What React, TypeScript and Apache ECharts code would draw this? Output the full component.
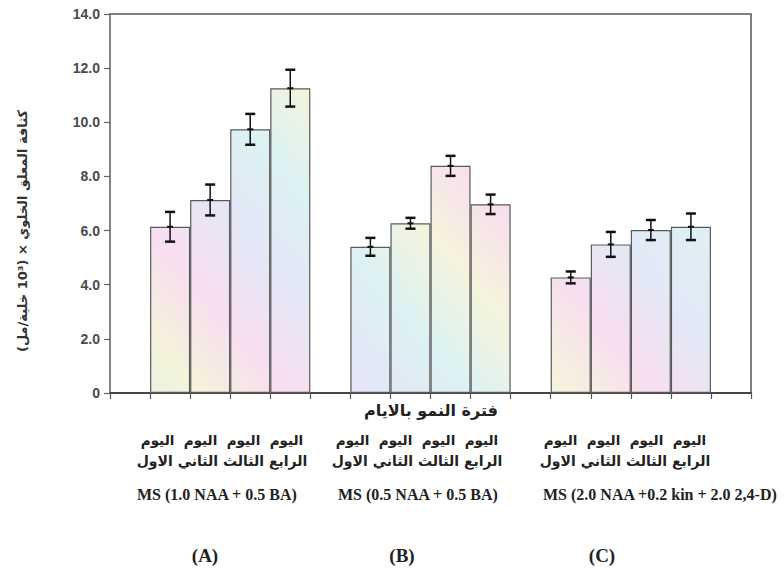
import React, { useEffect, useRef } from "react";
import * as echarts from "echarts";

// ---- data ----
const groupLetters = ["(A)", "(B)", "(C)"];
const treatments = [
  "MS (1.0 NAA + 0.5 BA)",
  "MS (0.5 NAA + 0.5 BA)",
  "MS (2.0 NAA +0.2 kin + 2.0 2,4-D)",
];
const dayWords = ["اليوم", "اليوم", "اليوم", "اليوم"];
const dayOrdinals = ["الرابع", "الثالث", "الثاني", "الاول"];
const xTitle = "فترة النمو بالايام";
const yTitle = "\u202Bكثافة المعلق الخلوي × (10³ خلية/مل)\u202C";
const yTicks = [0, 2, 4, 6, 8, 10, 12, 14];

const meansA = [6.14, 7.13, 9.74, 11.26];
const errA = [0.55, 0.57, 0.57, 0.68];
const meansB = [5.4, 6.27, 8.39, 6.97];
const errB = [0.33, 0.2, 0.37, 0.36];
const meansC = [4.27, 5.49, 6.02, 6.14];
const errC = [0.22, 0.46, 0.37, 0.49];

// category slots: gap, 4 bars, gap, 4 bars, gap, 4 bars, gap
const categories = [
  "gap0", "A1", "A2", "A3", "A4",
  "gap1", "B1", "B2", "B3", "B4",
  "gap2", "C1", "C2", "C3", "C4",
  "gap3",
];

export default function App() {
  const ref = useRef<HTMLDivElement>(null);
  useEffect(() => {
    if (!ref.current) return;
    const chart = echarts.init(ref.current, null, { renderer: "svg" });

    const barValues: any[] = ["-", ...meansA, "-", ...meansB, "-", ...meansC, "-"];
    const errValues: any[] = ["-", ...errA, "-", ...errB, "-", ...errC, "-"];
    const errData: any[] = [];
    barValues.forEach((v, i) => {
      if (v !== "-") errData.push([i, v, errValues[i]]);
    });

    const fill = new echarts.graphic.LinearGradient(
      110, 400, 560, 20,
      [
        { offset: 0.0, color: "#dcf1f5" },
        { offset: 0.12, color: "#f4f4da" },
        { offset: 0.24, color: "#f8def0" },
        { offset: 0.36, color: "#e3e7f7" },
        { offset: 0.48, color: "#dcf2f2" },
        { offset: 0.6, color: "#f5f4dc" },
        { offset: 0.72, color: "#f8def0" },
        { offset: 0.84, color: "#e2e9f7" },
        { offset: 1.0, color: "#ddf2f1" },
      ],
      true
    );

    const arabicFont = "DejaVu Sans";
    const centersAr = [222, 417, 625];
    const msLeft = [137, 338, 543];
    const letterCenters = [205, 402, 602];
    const line1 = dayWords.join("\u00A0\u00A0");
    const line2 = dayOrdinals.join(" ");

    const graphics: any[] = [];
    centersAr.forEach((cx) => {
      graphics.push({
        type: "text",
        x: cx,
        y: 440,
        style: {
          text: line1,
          font: `bold 13.5px "${arabicFont}"`,
          fill: "#222",
          align: "center",
          verticalAlign: "middle",
        },
      });
      graphics.push({
        type: "text",
        x: cx,
        y: 461,
        style: {
          text: line2,
          font: `bold 14px "${arabicFont}"`,
          fill: "#222",
          align: "center",
          verticalAlign: "middle",
        },
      });
    });
    treatments.forEach((t, i) => {
      graphics.push({
        type: "text",
        x: msLeft[i],
        y: 494,
        style: {
          text: t,
          font: 'bold 16px "Liberation Serif"',
          fill: "#222",
          align: "left",
          verticalAlign: "middle",
        },
      });
    });
    groupLetters.forEach((g, i) => {
      graphics.push({
        type: "text",
        x: letterCenters[i],
        y: 555,
        style: {
          text: g,
          font: 'bold 19px "Liberation Serif"',
          fill: "#222",
          align: "center",
          verticalAlign: "middle",
        },
      });
    });
    graphics.push({
      type: "text",
      x: 431,
      y: 410,
      style: {
        text: xTitle,
        font: `bold 16px "${arabicFont}"`,
        fill: "#222",
        align: "center",
        verticalAlign: "middle",
      },
    });
    graphics.push({
      type: "text",
      x: 22,
      y: 231,
      rotation: Math.PI / 2,
      style: {
        text: yTitle,
        font: `bold 13px "${arabicFont}"`,
        fill: "#333",
        align: "center",
        verticalAlign: "middle",
      },
    });

    chart.setOption({
      animation: false,
      backgroundColor: "#ffffff",
      grid: {
        left: 110,
        right: 33,
        top: 14,
        bottom: 180,
        show: true,
        borderColor: "#555",
        borderWidth: 1.5,
        backgroundColor: "transparent",
      },
      xAxis: {
        type: "category",
        data: categories,
        boundaryGap: true,
        axisLine: { lineStyle: { color: "#333", width: 1.5 } },
        axisTick: { show: true, interval: 0, length: 6, lineStyle: { color: "#555", width: 1.2 } },
        axisLabel: { show: false },
        splitLine: { show: false },
      },
      yAxis: {
        type: "value",
        min: 0,
        max: 14,
        interval: 2,
        axisLine: { show: true, lineStyle: { color: "#8a7f8c", width: 1.5 } },
        axisTick: { show: true, length: 6, lineStyle: { color: "#666", width: 1.2 } },
        axisLabel: {
          margin: 10,
          fontFamily: "Liberation Sans",
          fontWeight: "bold",
          fontSize: 14,
          color: "#4a4a4a",
          formatter: (v: number) => (v === 0 ? "0" : v.toFixed(1)),
          customValues: yTicks,
        },
        splitLine: { show: false },
      },
      series: [
        {
          type: "bar",
          data: barValues,
          barWidth: "100%",
          barCategoryGap: "0%",
          itemStyle: {
            color: fill,
            borderColor: "#5a5a5a",
            borderWidth: 1.2,
          },
          silent: true,
        },
        {
          type: "custom",
          data: errData,
          encode: { x: 0, y: 1 },
          z: 10,
          silent: true,
          renderItem: (params: any, api: any) => {
            const x = api.value(0);
            const m = api.value(1);
            const e = api.value(2);
            const top = api.coord([x, m + e]);
            const bot = api.coord([x, m - e]);
            const mid = api.coord([x, m]);
            const cw = 5;
            return {
              type: "group",
              children: [
                {
                  type: "line",
                  shape: { x1: top[0], y1: top[1], x2: bot[0], y2: bot[1] },
                  style: { stroke: "#111", lineWidth: 1.5 },
                },
                {
                  type: "line",
                  shape: { x1: top[0] - cw, y1: top[1], x2: top[0] + cw, y2: top[1] },
                  style: { stroke: "#111", lineWidth: 2.5 },
                },
                {
                  type: "line",
                  shape: { x1: bot[0] - cw, y1: bot[1], x2: bot[0] + cw, y2: bot[1] },
                  style: { stroke: "#111", lineWidth: 2.5 },
                },
                {
                  type: "line",
                  shape: { x1: mid[0] - 3, y1: mid[1], x2: mid[0] + 3, y2: mid[1] },
                  style: { stroke: "#111", lineWidth: 2 },
                },
              ],
            };
          },
        },
      ],
      graphic: graphics,
    });
    return () => chart.dispose();
  }, []);
  return (
    <div
      ref={ref}
      style={{ position: "fixed", left: 0, top: 0, width: 784, height: 573 }}
    />
  );
}
